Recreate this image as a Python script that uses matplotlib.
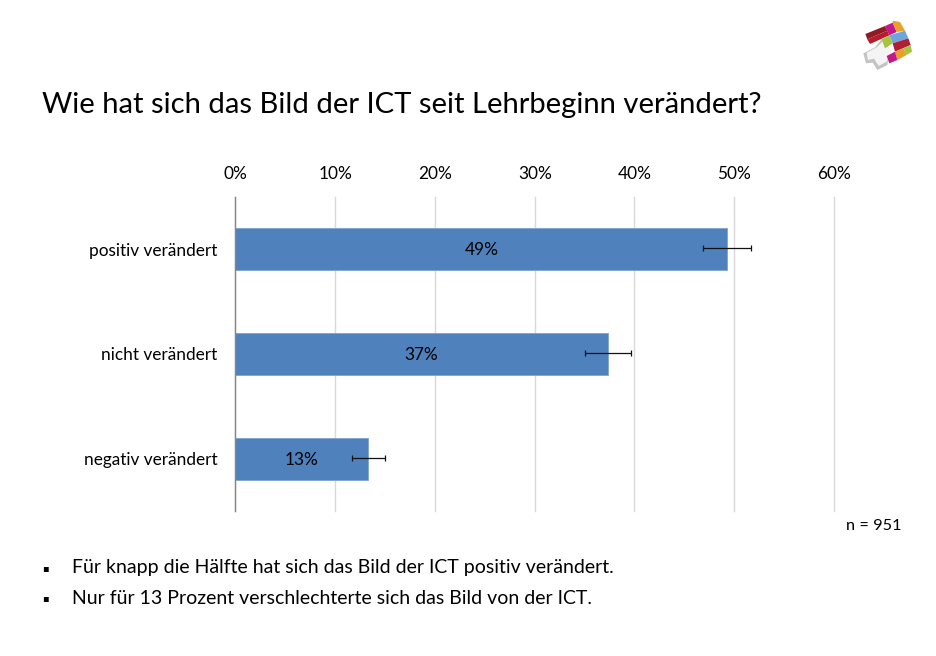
import matplotlib
matplotlib.use('Agg')
import matplotlib.pyplot as plt
from matplotlib.patches import Polygon

plt.rcParams['font.family'] = ['Lato', 'DejaVu Sans']

categories = ['positiv verändert', 'nicht verändert', 'negativ verändert']
values = [49.3, 37.3, 13.3]
err_low = [46.9, 35.0, 11.7]
err_high = [51.7, 39.6, 15.0]
value_labels = ['49%', '37%', '13%']
x_ticks = [0, 10, 20, 30, 40, 50, 60]
title = 'Wie hat sich das Bild der ICT seit Lehrbeginn verändert?'
bullets = ['Für knapp die Hälfte hat sich das Bild der ICT positiv verändert.',
           'Nur für 13 Prozent verschlechterte sich das Bild von der ICT.']

W, H = 937, 656
fig = plt.figure(figsize=(W / 100, H / 100), dpi=100, facecolor='white')

# Diagramm
ax = fig.add_axes([235.5 / W, 1 - 511 / H, 598.5 / W, 314 / H])
ypos = list(range(len(categories)))
ax.barh(ypos, values, height=0.4, color='#4f81bd', edgecolor='#7fa3d1', linewidth=0.6, zorder=2)
xerr = [[v - l for v, l in zip(values, err_low)], [h - v for v, h in zip(values, err_high)]]
ax.errorbar(values, [y - 0.01 for y in ypos], xerr=xerr, fmt='none', ecolor='#111111',
            elinewidth=0.9, capsize=2.5, capthick=0.9, zorder=3)
for y, v, lab in zip(ypos, values, value_labels):
    ax.text(v / 2, y + 0.008, lab, ha='center', va='center', fontsize=12.4, color='black', zorder=4)

ax.set_xlim(0, 60)
ax.set_ylim(2.5, -0.5)
ax.set_xticks(x_ticks)
ax.set_xticklabels([f'{t}%' for t in x_ticks], fontsize=12.4)
ax.xaxis.tick_top()
ax.set_yticks(ypos)
ax.set_yticklabels(categories, fontsize=12.4)
ax.tick_params(axis='both', length=0)
ax.tick_params(axis='x', pad=11)
ax.tick_params(axis='y', pad=13)
ax.grid(axis='x', color='#d9d9d9', linewidth=1, zorder=0)
for line in ax.get_xgridlines():
    line.set_clip_on(False)
ax.set_axisbelow(True)
for s in ['top', 'right', 'bottom']:
    ax.spines[s].set_visible(False)
ax.spines['left'].set_color('#868686')
ax.spines['left'].set_linewidth(1)

# Texte auf der Folie
fig.text(42 / W, 1 - 104.5 / H, title, fontsize=21.1, ha='left', va='center', color='black')
fig.text(902 / W, 1 - 526 / H, 'n = 951', fontsize=11.8, ha='right', va='center')
for yp, b in zip([568, 598], bullets):
    fig.text(42 / W, 1 - yp / H, '▪', fontsize=7, ha='left', va='center',
             family=['DejaVu Sans'])
    fig.text(72 / W, 1 - yp / H, b, fontsize=14, ha='left', va='center')

# Logo oben rechts, Koordinaten aus dem Zoom (Pixel relativ zu 850,10 mal 3)
overlay = fig.add_axes([0, 0, 1, 1], facecolor='none')
overlay.set_xlim(0, W)
overlay.set_ylim(H, 0)
overlay.axis('off')
logo = [
    ('#c4c4c4', [(40, 130), (75, 112), (95, 88), (120, 118), (112, 165), (82, 180), (68, 158), (48, 160)]),
    ('#f4f4f4', [(50, 128), (80, 112), (98, 95), (124, 122), (110, 155), (86, 168), (72, 146), (54, 150)]),
    ('#8e1c22', [(46, 72), (105, 48), (112, 62), (52, 88)]),
    ('#b51c2c', [(52, 88), (112, 62), (118, 76), (60, 102)]),
    ('#c2188a', [(105, 48), (128, 38), (140, 66), (118, 76)]),
    ('#e8a02a', [(128, 32), (150, 36), (165, 62), (140, 66), (128, 38)]),
    ('#6fa5dc', [(118, 76), (165, 62), (175, 85), (128, 100)]),
    ('#a6c43c', [(95, 88), (118, 76), (128, 100), (105, 115)]),
    ('#b01f35', [(128, 100), (175, 85), (182, 105), (135, 125)]),
    ('#e8a02a', [(135, 125), (160, 115), (170, 135), (142, 150)]),
    ('#a6c43c', [(160, 115), (182, 105), (186, 125), (170, 135)]),
    ('#c2188a', [(110, 138), (135, 125), (142, 150), (118, 160)]),
]
for col, pts in logo:
    overlay.add_patch(Polygon([(850 + x / 3, 10 + y / 3) for x, y in pts], closed=True,
                              facecolor=col, edgecolor='none'))

fig.savefig('out.png', dpi=100)
